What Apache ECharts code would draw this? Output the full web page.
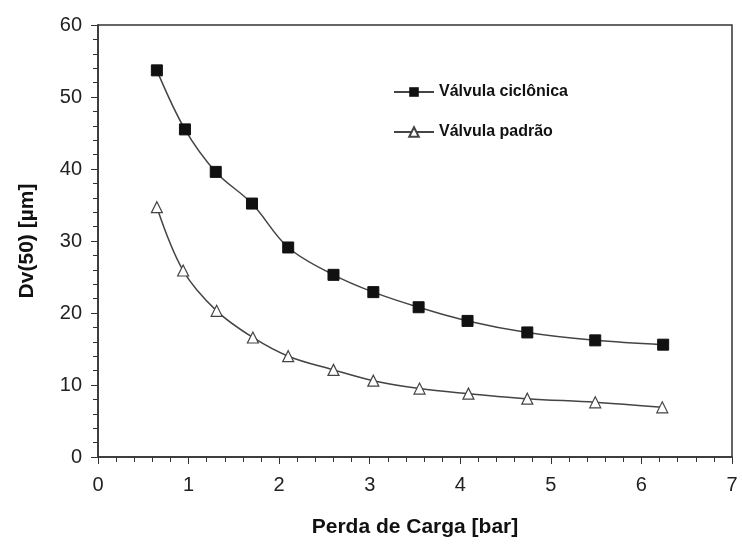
<!DOCTYPE html>
<html><head><meta charset="utf-8">
<script src="https://cdn.jsdelivr.net/npm/echarts@6/dist/echarts.min.js"></script>
<style>html,body{margin:0;padding:0;background:#fff}#c{width:742px;height:551px}</style>
</head><body><div id="c"></div>
<script>
const xCiclonica = [0.65, 0.96, 1.30, 1.70, 2.10, 2.60, 3.04, 3.54, 4.08, 4.74, 5.49, 6.24];
const yCiclonica = [53.7, 45.5, 39.6, 35.2, 29.1, 25.3, 22.9, 20.8, 18.9, 17.3, 16.2, 15.6];
const xPadrao = [0.65, 0.94, 1.31, 1.71, 2.10, 2.60, 3.04, 3.55, 4.09, 4.74, 5.49, 6.23];
const yPadrao = [34.7, 25.9, 20.3, 16.6, 14.0, 12.1, 10.6, 9.5, 8.8, 8.1, 7.6, 6.9];
const seriesNames = ['Válvula ciclônica', 'Válvula padrão'];
const xTitle = 'Perda de Carga [bar]';
const yTitle = 'Dv(50) [µm]';

const pair = (xs, ys) => xs.map((x, i) => [x, ys[i]]);
const chart = echarts.init(document.getElementById('c'));
const font = 'Liberation Sans, Arial, sans-serif';
chart.setOption({
  animation: false,
  backgroundColor: '#fff',
  grid: { left: 98, top: 25, right: 10, bottom: 94, show: true, borderColor: '#333', borderWidth: 1.5, backgroundColor: 'transparent' },
  legend: {
    orient: 'vertical', left: 388, top: 79, itemGap: 24, itemWidth: 40, itemHeight: 12,
    textStyle: { fontFamily: font, fontWeight: 'bold', fontSize: 16, color: '#111' },
    data: seriesNames
  },
  xAxis: {
    type: 'value', min: 0, max: 7, interval: 1,
    name: xTitle, nameLocation: 'middle', nameGap: 60,
    nameTextStyle: { fontFamily: font, fontWeight: 'bold', fontSize: 21, color: '#111' },
    axisLine: { onZero: false, lineStyle: { color: '#333', width: 1.5 } },
    axisTick: { show: true, inside: false, length: 7, lineStyle: { color: '#333' } },
    minorTick: { show: true, splitNumber: 5, length: 5, lineStyle: { color: '#333' } },
    axisLabel: { fontFamily: font, fontSize: 20, color: '#222', margin: 18 },
    splitLine: { show: false }
  },
  yAxis: {
    type: 'value', min: 0, max: 60, interval: 10,
    name: yTitle, nameLocation: 'middle', nameGap: 60, nameRotate: 90,
    nameTextStyle: { fontFamily: font, fontWeight: 'bold', fontSize: 21, color: '#111' },
    axisLine: { lineStyle: { color: '#333', width: 1.5 } },
    axisTick: { show: true, length: 7, lineStyle: { color: '#333' } },
    minorTick: { show: true, splitNumber: 5, length: 5, lineStyle: { color: '#333' } },
    axisLabel: { fontFamily: font, fontSize: 20, color: '#222', margin: 16 },
    splitLine: { show: false }
  },
  series: [
    {
      name: seriesNames[0], type: 'line', smooth: 0.35,
      data: pair(xCiclonica, yCiclonica),
      symbol: 'rect', symbolSize: 11,
      lineStyle: { color: '#444', width: 1.5 },
      itemStyle: { color: '#111', borderColor: '#111' }
    },
    {
      name: seriesNames[1], type: 'line', smooth: 0.35,
      data: pair(xPadrao, yPadrao),
      symbol: 'triangle', symbolSize: 11,
      lineStyle: { color: '#444', width: 1.5 },
      itemStyle: { color: '#fff', borderColor: '#444', borderWidth: 1.2 }
    }
  ]
});
</script></body></html>
